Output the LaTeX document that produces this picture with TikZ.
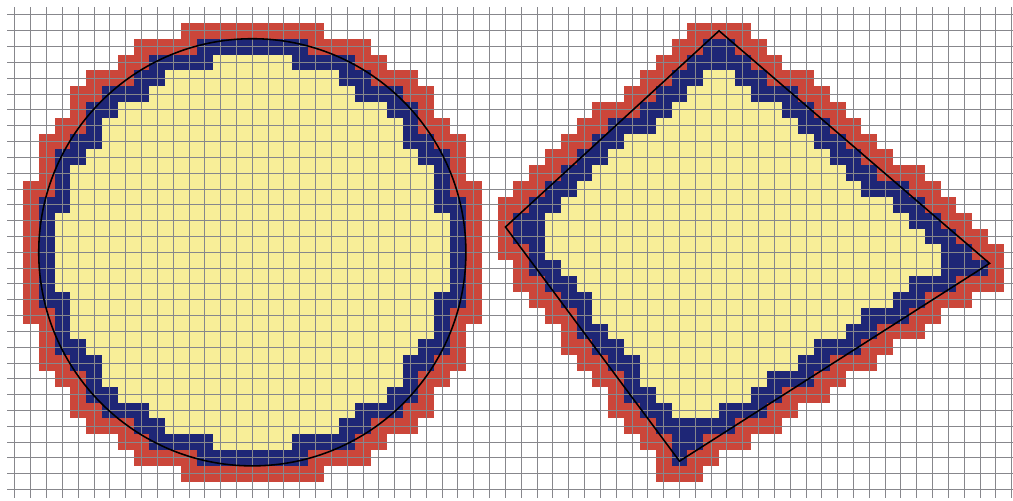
\documentclass[tikz,border=0pt]{standalone}
\definecolor{cellY}{RGB}{248,238,152}
\definecolor{cellB}{RGB}{30,38,118}
\definecolor{cellR}{RGB}{203,70,58}
\definecolor{gridc}{RGB}{135,135,140}
\newif\ifinside
\newcount\nin
% circle: centre (15,15), radius 13.5 (grid units)
\def\CircTest#1#2{\ifnum\numexpr 4*((#1-15)*(#1-15)+(#2-15)*(#2-15))\relax<729\relax\insidetrue\else\insidefalse\fi}
% quadrilateral corners (x10)
\def\Lx{310}\def\Ly{134}
\def\Tx{445}\def\Ty{10}
\def\Rx{616}\def\Ry{157}
\def\Bx{420}\def\By{282}
\def\Edge#1#2#3#4#5#6{((#3-#1)*(#6-#2)-(#4-#2)*(#5-#1))}
\def\QuadTest#1#2{\insidefalse
 \ifnum\numexpr\Edge\Lx\Ly\Tx\Ty{10*(#1)}{10*(#2)}\relax>0\relax
  \ifnum\numexpr\Edge\Tx\Ty\Rx\Ry{10*(#1)}{10*(#2)}\relax>0\relax
   \ifnum\numexpr\Edge\Rx\Ry\Bx\By{10*(#1)}{10*(#2)}\relax>0\relax
    \ifnum\numexpr\Edge\Bx\By\Lx\Ly{10*(#1)}{10*(#2)}\relax>0\relax
     \insidetrue\fi\fi\fi\fi}
\def\Classify#1#2#3{\nin=0\relax
 #1{#2-1}{#3-1}\ifinside\advance\nin by 1\relax\fi
 #1{#2}{#3-1}\ifinside\advance\nin by 1\relax\fi
 #1{#2+1}{#3-1}\ifinside\advance\nin by 1\relax\fi
 #1{#2-1}{#3}\ifinside\advance\nin by 1\relax\fi
 #1{#2+1}{#3}\ifinside\advance\nin by 1\relax\fi
 #1{#2-1}{#3+1}\ifinside\advance\nin by 1\relax\fi
 #1{#2}{#3+1}\ifinside\advance\nin by 1\relax\fi
 #1{#2+1}{#3+1}\ifinside\advance\nin by 1\relax\fi
 #1{#2}{#3}%
 \ifinside\ifnum\nin=8\relax\def\cls{1}\else\def\cls{2}\fi
 \else\ifnum\nin>0\relax\def\cls{3}\else\def\cls{0}\fi\fi}
\tikzset{
  gridl/.style={draw=gridc,line width=0.45pt},
  outline/.style={draw=black,line width=0.7pt},
}
\newcommand\PaintCell[2]{%
  \ifcase\cls\relax
  \or\fill[cellY] (#1-0.5,#2-0.5) rectangle (#1+0.5,#2+0.5);
  \or\fill[cellB] (#1-0.5,#2-0.5) rectangle (#1+0.5,#2+0.5);
  \or\fill[cellR] (#1-0.5,#2-0.5) rectangle (#1+0.5,#2+0.5);
  \fi}
\begin{document}
\begin{tikzpicture}[x=0.25cm,y=-0.25cm]
\useasboundingbox (-0.948,-0.948) rectangle (63.08,30.68);
\clip (-0.948,-0.948) rectangle (63.08,30.68);
\fill[white] (-0.948,-0.948) rectangle (63.08,30.68);
% circle cells
\foreach \i in {0,...,30}{\foreach \j in {0,...,30}{\Classify\CircTest\i\j\PaintCell\i\j}}
% quadrilateral cells
\foreach \i in {29,...,63}{\foreach \j in {0,...,30}{\Classify\QuadTest\i\j\PaintCell\i\j}}
% grid
\foreach \i in {0,...,63}{\draw[gridl] (\i,-0.5) -- (\i,30.5);}
\foreach \j in {0,...,30}{\draw[gridl] (-0.5,\j) -- (63.5,\j);}
% outlines
\draw[outline] (15,15) circle [radius=13.5];
\coordinate (L) at (31,13.4);
\coordinate (T) at (44.5,1);
\coordinate (R) at (61.6,15.7);
\coordinate (B) at (42,28.2);
\draw[outline] (L) -- (T) -- (R) -- (B) -- cycle;
\end{tikzpicture}
\end{document}
